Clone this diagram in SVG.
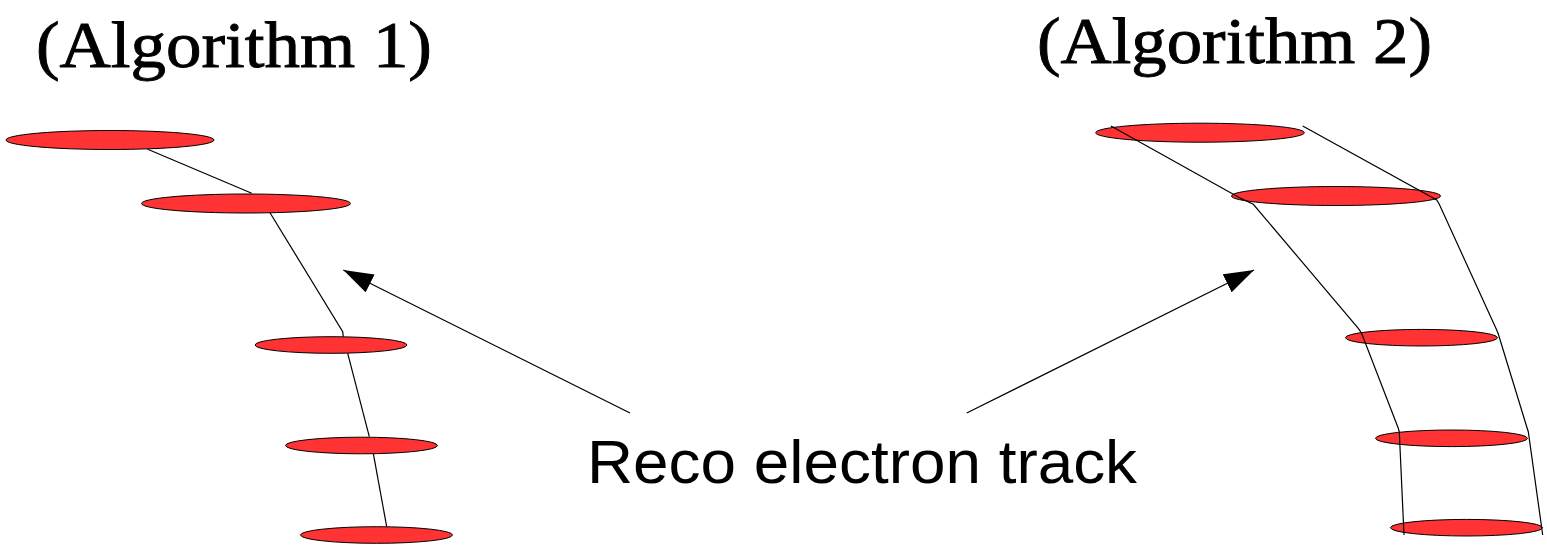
<svg xmlns="http://www.w3.org/2000/svg" width="1547" height="557" viewBox="0 0 1547 557">
<style>
.hit{fill:#ff3333;stroke:#000;stroke-width:1}
.trk{fill:none;stroke:#000;stroke-width:1.2}
.arr{fill:none;stroke:#000;stroke-width:1.2}
.ttl{font-family:"Liberation Serif","DejaVu Serif",serif;font-size:66px;fill:#000;stroke:#000;stroke-width:0.9}
.lbl{font-family:"Liberation Sans",Arial,sans-serif;font-size:62px;fill:#000}
</style>
<defs>
<marker id="ah" viewBox="0 0 30 20" refX="30" refY="10" markerWidth="30" markerHeight="20" markerUnits="userSpaceOnUse" orient="auto">
<path d="M0,0 L30,10 L0,20 Z" fill="#000"/>
</marker>
</defs>
<rect width="1547" height="557" fill="#fff"/>
<g id="title1"><text class="ttl" x="36" y="67" textLength="396" lengthAdjust="spacingAndGlyphs">(Algorithm 1)</text></g>
<g id="title2"><text class="ttl" x="1037" y="63" textLength="395" lengthAdjust="spacingAndGlyphs">(Algorithm 2)</text></g>
<g id="label"><text class="lbl" x="587" y="483" textLength="550" lengthAdjust="spacingAndGlyphs">Reco electron track</text></g>
<g id="alg1-hits">
<ellipse id="a1h1" class="hit" cx="110" cy="140" rx="104" ry="9.5"/>
<ellipse id="a1h2" class="hit" cx="246" cy="203.5" rx="104.5" ry="9.5"/>
<ellipse id="a1h3" class="hit" cx="331" cy="345" rx="76" ry="8.3"/>
<ellipse id="a1h4" class="hit" cx="361.5" cy="445.5" rx="76" ry="8.3"/>
<ellipse id="a1h5" class="hit" cx="376.5" cy="535" rx="76" ry="8.3"/>
</g>
<g id="alg2-hits">
<ellipse id="a2h1" class="hit" cx="1200" cy="132.7" rx="104.3" ry="9.5"/>
<ellipse id="a2h2" class="hit" cx="1336" cy="196" rx="104.5" ry="9.5"/>
<ellipse id="a2h3" class="hit" cx="1421.5" cy="337.7" rx="76" ry="8.3"/>
<ellipse id="a2h4" class="hit" cx="1451.5" cy="438.3" rx="76" ry="8.3"/>
<ellipse id="a2h5" class="hit" cx="1466.5" cy="527.7" rx="76" ry="8.3"/>
</g>
<g id="connectors">
<line class="trk" x1="147.7" y1="149.3" x2="251.7" y2="193.3"/>
<polyline class="trk" points="270,212.7 342.7,331.7 343.3,336.7"/>
<line class="trk" x1="347.7" y1="353.3" x2="369.3" y2="436.7"/>
<line class="trk" x1="373.3" y1="453.3" x2="386.7" y2="526.7"/>
<polyline class="trk" points="1111,126 1240,198 1253.3,204.3 1358.3,328.3 1361.5,333 1398.3,428.3 1399.3,432 1404,535"/>
<polyline class="trk" points="1302.7,126 1436.7,200 1439.3,204.3 1496.7,330 1498.3,334 1526.7,426.7 1528.3,431.7 1542.7,535"/>
<line class="arr" x1="630" y1="413" x2="343.3" y2="270" marker-end="url(#ah)"/>
<line class="arr" x1="966.7" y1="413" x2="1254" y2="270" marker-end="url(#ah)"/>
</g>
</svg>
